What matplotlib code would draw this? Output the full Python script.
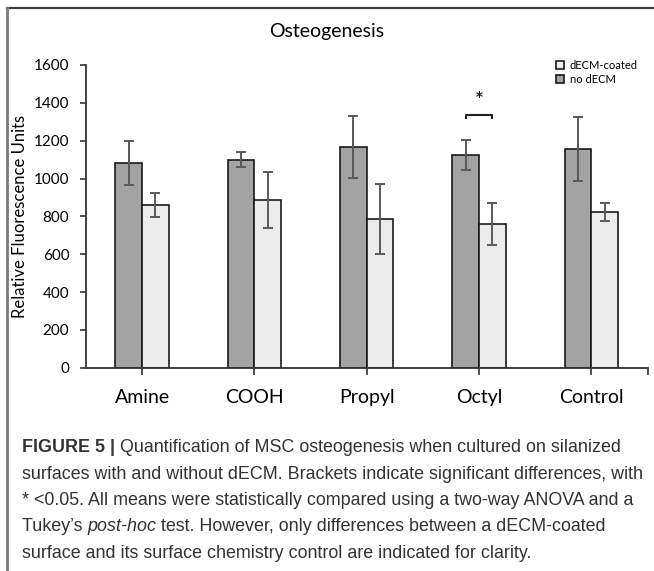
import numpy as np
import matplotlib
matplotlib.use("Agg")
import matplotlib.pyplot as plt
from matplotlib.lines import Line2D

# datos
grupos = ["Amine", "COOH", "Propyl", "Octyl", "Control"]
no_decm = [1083, 1099, 1166, 1126, 1156]
no_decm_err = [115, 39, 162, 80, 171]
decm = [860, 885, 786, 761, 825]
decm_err = [63, 147, 183, 112, 47]
yticks = [0, 200, 400, 600, 800, 1000, 1200, 1400, 1600]

pie = [
    [("FIGURE 5 | ", "bold", "normal"),
     ("Quantification of MSC osteogenesis when cultured on silanized", "normal", "normal")],
    [("surfaces with and without dECM. Brackets indicate significant differences, with", "normal", "normal")],
    [("* <0.05. All means were statistically compared using a two-way ANOVA and a", "normal", "normal")],
    [("Tukey\u2019s ", "normal", "normal"), ("post-hoc", "normal", "italic"),
     (" test. However, only differences between a dECM-coated", "normal", "normal")],
    [("surface and its surface chemistry control are indicated for clarity.", "normal", "normal")],
]

W, H = 654, 571
fig = plt.figure(figsize=(W / 100, H / 100), dpi=100)
ax = fig.add_axes([86 / W, 1 - 367.7 / H, (647.5 - 86) / W, (367.7 - 65) / H])

x = np.arange(len(grupos))
w = 0.2375
ax.bar(x - w / 2, no_decm, w, color="#a3a3a3", edgecolor="#1a1a1a", linewidth=1.2,
       label="no dECM", zorder=2)
ax.bar(x + w / 2, decm, w, color="#ececec", edgecolor="#1a1a1a", linewidth=1.2,
       label="dECM-coated", zorder=2)
ax.errorbar(x - w / 2, no_decm, yerr=no_decm_err, fmt="none", ecolor="#5a5a5a",
            elinewidth=1.4, capsize=3.5, capthick=1.4, zorder=3)
ax.errorbar(x + w / 2, decm, yerr=decm_err, fmt="none", ecolor="#5a5a5a",
            elinewidth=1.4, capsize=3.5, capthick=1.4, zorder=3)

# corchete de significancia (Octyl)
i = 3
yb = 1337
ax.plot([i - w / 2, i - w / 2, i + w / 2, i + w / 2], [yb - 16, yb, yb, yb - 16],
        color="#222222", lw=1.5, zorder=3)
ax.text(i, yb + 20, "*", ha="center", va="bottom", fontsize=15, family="Lato")

ax.set_xlim(-0.5, 4.5)
ax.set_ylim(0, 1600)
ax.set_yticks(yticks)
ax.set_yticklabels([str(v) for v in yticks], family="Lato", fontsize=11)
ax.set_xticks(list(x) + [4.5])
ax.set_xticklabels(grupos + [""], family="Lato", fontsize=14)
ax.tick_params(axis="x", direction="out", length=5, width=1.2, color="#333333", pad=10)
ax.tick_params(axis="y", direction="out", length=4, width=1.2, color="#333333", pad=8)
for s in ["top", "right"]:
    ax.spines[s].set_visible(False)
for s in ["left", "bottom"]:
    ax.spines[s].set_color("#333333")
    ax.spines[s].set_linewidth(1.3)
ax.set_ylabel("Relative Fluorescence Units", family="Lato", fontsize=12)
ax.yaxis.set_label_coords((28 - 86) / (647.5 - 86), 0.5)

h, l = ax.get_legend_handles_labels()
ax.legend(h[::-1], l[::-1], loc="upper right", bbox_to_anchor=(1.0, 1.05), frameon=False,
          prop={"family": "Lato", "size": 8}, handlelength=0.7, handleheight=0.7,
          handletextpad=0.5, labelspacing=0.3)

fig.text(0.5, 1 - 32 / H, "Osteogenesis", ha="center", va="center", family="Lato", fontsize=14)

# marco
fig.add_artist(Line2D([7 / W, 1], [1 - 8 / H, 1 - 8 / H], color="#3c3c3c", lw=1.6))
fig.add_artist(Line2D([7 / W, 7 / W], [0, 1 - 8 / H], color="#7a7a7a", lw=2.0))

# leyenda de la figura
r = fig.canvas.get_renderer()
for k, linea in enumerate(pie):
    xp = 22 / W
    yp = 1 - (448 + 26.3 * k) / H
    for txt, peso, estilo in linea:
        t = fig.text(xp, yp, txt, ha="left", va="center", fontsize=12.9,
                     family="Liberation Sans", weight=peso, style=estilo, color="#333333")
        bb = t.get_window_extent(renderer=r)
        xp = bb.x1 / (W)

fig.savefig("out.png", dpi=100)
